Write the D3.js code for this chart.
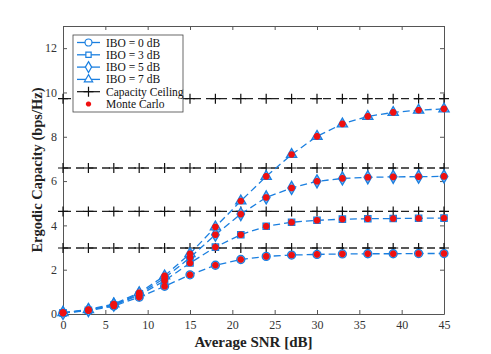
<!DOCTYPE html>
<html>
<head>
<meta charset="utf-8">
<script src="https://cdn.jsdelivr.net/npm/d3@7"></script>
<style>
  body { margin: 0; background: #fff; }
  text { font-family: "Liberation Serif", "Times New Roman", serif; }
</style>
</head>
<body>
<script>
var snr = [0, 3, 6, 9, 12, 15, 18, 21, 24, 27, 30, 33, 36, 39, 42, 45];
var ibo0 = [0.05, 0.15, 0.36, 0.76, 1.25, 1.77, 2.2, 2.46, 2.6, 2.66, 2.69, 2.71, 2.72, 2.72, 2.73, 2.73];
var ibo3 = [0.05, 0.17, 0.4, 0.85, 1.5, 2.3, 3.02, 3.58, 3.96, 4.14, 4.23, 4.28, 4.3, 4.31, 4.32, 4.33];
var ibo5 = [0.05, 0.18, 0.42, 0.9, 1.62, 2.55, 3.58, 4.51, 5.26, 5.69, 5.99, 6.12, 6.17, 6.19, 6.2, 6.21];
var ibo7 = [0.06, 0.2, 0.45, 0.96, 1.72, 2.72, 3.93, 5.1, 6.21, 7.2, 8.02, 8.58, 8.92, 9.1, 9.2, 9.26];
var ceilings = [2.98, 4.63, 6.59, 9.72];
var seriesNames = ["IBO = 0 dB", "IBO = 3 dB", "IBO = 5 dB", "IBO = 7 dB"];
var xTicks = [0, 5, 10, 15, 20, 25, 30, 35, 40, 45];
var yTicks = [0, 2, 4, 6, 8, 10, 12];

var W = 491, H = 354;
var m = { left: 63, right: 47, top: 26, bottom: 40 };
var blue = "#1a7fe0";

var svg = d3.select("body").append("svg").attr("width", W).attr("height", H);

var x = d3.scaleLinear().domain([0, 45]).range([m.left, W - m.right]);
var y = d3.scaleLinear().domain([0, 13]).range([H - m.bottom, m.top]);

// axes box, ticks inward
var axisCol = "#555";
var g = svg.append("g");
g.append("g").attr("transform", "translate(0," + y(0) + ")")
  .call(d3.axisBottom(x).tickValues(xTicks).tickSize(-4).tickSizeOuter(0).tickPadding(6));
g.append("g").attr("transform", "translate(0," + y(13) + ")")
  .call(d3.axisTop(x).tickValues(xTicks).tickSize(-4).tickSizeOuter(0).tickFormat(""));
g.append("g").attr("transform", "translate(" + x(0) + ",0)")
  .call(d3.axisLeft(y).tickValues(yTicks).tickSize(-4).tickSizeOuter(0).tickPadding(6));
g.append("g").attr("transform", "translate(" + x(45) + ",0)")
  .call(d3.axisRight(y).tickValues(yTicks).tickSize(-4).tickSizeOuter(0).tickFormat(""));
g.selectAll(".domain").attr("stroke", axisCol);
g.selectAll(".tick line").attr("stroke", axisCol);
g.selectAll(".tick text").attr("fill", "#333").style("font-size", "12px")
  .style("font-family", "Liberation Serif");

// ceilings
ceilings.forEach(function (c) {
  svg.append("line").attr("x1", x(0)).attr("x2", x(45)).attr("y1", y(c)).attr("y2", y(c))
    .attr("stroke", "#222").attr("stroke-width", 1.3).attr("stroke-dasharray", "8,5");
  snr.forEach(function (s) {
    svg.append("path").attr("d", "M" + (x(s) - 5) + "," + y(c) + "h10M" + x(s) + "," + (y(c) - 5) + "v10")
      .attr("stroke", "#111").attr("stroke-width", 1.2);
  });
});

var shapes = [d3.symbolCircle, d3.symbolSquare, d3.symbolDiamond, d3.symbolTriangle];
var sizes = [50, 40, 50, 45];
var legSizes = [38, 28, 34, 30];
var all = [ibo0, ibo3, ibo5, ibo7];
var line = d3.line().x(function (d, i) { return x(snr[i]); }).y(function (d) { return y(d); });

function star(sel, cx, cy, r) {
  var p = "";
  for (var k = 0; k < 4; k++) {
    var a = k * Math.PI / 4;
    p += "M" + (cx - r * Math.cos(a)) + "," + (cy - r * Math.sin(a)) + "L" + (cx + r * Math.cos(a)) + "," + (cy + r * Math.sin(a));
  }
  sel.append("path").attr("d", p).attr("stroke", "#f01010").attr("stroke-width", 2.2);
}

all.forEach(function (vals, j) {
  svg.append("path").attr("d", line(vals)).attr("fill", "none")
    .attr("stroke", blue).attr("stroke-width", 1.3).attr("stroke-dasharray", "7,4");
  vals.forEach(function (v, i) {
    svg.append("path").attr("d", d3.symbol().type(shapes[j]).size(sizes[j])())
      .attr("transform", "translate(" + x(snr[i]) + "," + y(v) + ")")
      .attr("fill", "#7fb7ef").attr("stroke", blue).attr("stroke-width", 1.3);
  });
});
all.forEach(function (vals) {
  vals.forEach(function (v, i) { star(svg, x(snr[i]), y(v), 3.3); });
});

// legend
var lg = svg.append("g");
lg.append("rect").attr("x", 73).attr("y", 35).attr("width", 110).attr("height", 77)
  .attr("fill", "#fff").attr("stroke", "#444").attr("stroke-width", 0.8);
var labels = seriesNames.concat(["Capacity Ceiling", "Monte Carlo"]);
labels.forEach(function (t, i) {
  var ly = 42.5 + i * 12.3;
  if (i < 4) {
    lg.append("line").attr("x1", 77).attr("x2", 100).attr("y1", ly).attr("y2", ly)
      .attr("stroke", blue).attr("stroke-width", 1.3);
    lg.append("path").attr("d", d3.symbol().type(shapes[i]).size(legSizes[i])())
      .attr("transform", "translate(88.5," + ly + ")")
      .attr("fill", "#fff").attr("stroke", blue).attr("stroke-width", 1.2);
  } else if (i === 4) {
    lg.append("line").attr("x1", 77).attr("x2", 100).attr("y1", ly).attr("y2", ly)
      .attr("stroke", "#111").attr("stroke-width", 1.2);
    lg.append("path").attr("d", "M83.5," + ly + "h10M88.5," + (ly - 5) + "v10")
      .attr("stroke", "#111").attr("stroke-width", 1.2);
  } else {
    star(lg, 88.5, ly, 2.6);
  }
  lg.append("text").attr("x", 106).attr("y", ly + 4).text(t)
    .style("font-size", "11.5px").attr("fill", "#111");
});

// axis labels
svg.append("text").attr("x", (x(0) + x(45)) / 2).attr("y", 347).attr("text-anchor", "middle")
  .style("font-size", "15px").style("font-weight", "bold").attr("fill", "#222")
  .text("Average SNR [dB]");
svg.append("text").attr("transform", "translate(42," + ((y(0) + y(13)) / 2) + ") rotate(-90)")
  .attr("text-anchor", "middle")
  .style("font-size", "14.5px").style("font-weight", "bold").attr("fill", "#222")
  .text("Ergodic Capacity (bps/Hz)");
</script>
</body>
</html>
